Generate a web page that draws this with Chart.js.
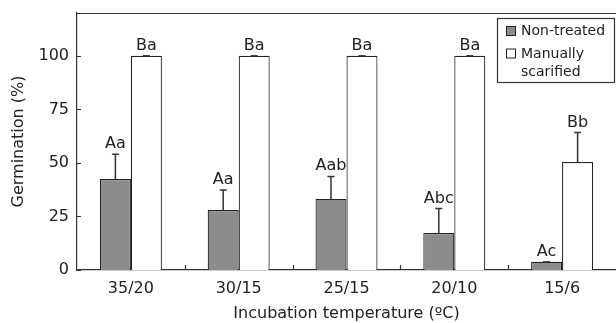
<!DOCTYPE html>
<html lang="en">
  <head>
    <meta charset="UTF-8" />
    <title>Germination</title>
    <script src="https://cdn.jsdelivr.net/npm/chart.js"></script>
    <style>
      body {
        margin: 0;
        background: #fff;
      }
      canvas {
        display: block;
      }
    </style>
  </head>
  <body>
    <canvas id="germChart" width="616" height="323"></canvas>

    <script>
      // data
      const categories = ["35/20", "30/15", "25/15", "20/10", "15/6"];
      const nonTreated = [42.5, 28, 33.2, 17.3, 3.8];
      const nonTreatedErr = [11.5, 9.3, 10.5, 11.4, 0];
      const nonTreatedLetters = ["Aa", "Aa", "Aab", "Abc", "Ac"];
      const scarified = [100, 100, 100, 100, 50.4];
      const scarifiedErr = [0, 0, 0, 0, 13.8];
      const scarifiedLetters = ["Ba", "Ba", "Ba", "Ba", "Bb"];
      const seriesNames = [["Non-treated"], ["Manually", "scarified"]];
      const yTicks = [0, 25, 50, 75, 100];

      const FONT = "'DejaVu Sans', sans-serif";
      const INK = "#222";

      // upward error bars + letters above them
      const errorBars = {
        id: "errorBars",
        afterDatasetsDraw(chart) {
          const ctx = chart.ctx;
          const y = chart.scales.y;
          ctx.save();
          chart.data.datasets.forEach((ds, di) => {
            const meta = chart.getDatasetMeta(di);
            meta.data.forEach((bar, i) => {
              const base = y.getPixelForValue(ds.data[i]);
              const top = y.getPixelForValue(ds.data[i] + ds.errors[i]);
              ctx.strokeStyle = "#333";
              ctx.lineWidth = 1.5;
              ctx.beginPath();
              ctx.moveTo(bar.x, base);
              ctx.lineTo(bar.x, top);
              ctx.moveTo(bar.x - 3.5, top);
              ctx.lineTo(bar.x + 3.5, top);
              ctx.stroke();
              ctx.fillStyle = INK;
              ctx.font = "16px " + FONT;
              ctx.textAlign = "center";
              ctx.textBaseline = "alphabetic";
              ctx.fillText(ds.letters[i], bar.x, top - 6);
            });
          });
          ctx.restore();
        },
      };

      // top frame line, inward tick marks and boxed legend
      const frame = {
        id: "frame",
        afterDraw(chart) {
          const ctx = chart.ctx;
          const { left, right, top, bottom } = chart.chartArea;
          const x = chart.scales.x;
          const y = chart.scales.y;
          ctx.save();
          ctx.strokeStyle = "#333";
          ctx.lineWidth = 1.2;
          ctx.beginPath();
          ctx.moveTo(left, top + 0.5);
          ctx.lineTo(right, top + 0.5);
          yTicks.forEach((v) => {
            const py = Math.round(y.getPixelForValue(v)) + 0.5;
            ctx.moveTo(left, py);
            ctx.lineTo(left + 4, py);
          });
          const step = (right - left) / categories.length;
          for (let i = 1; i < categories.length; i++) {
            const px = Math.round(x.getPixelForValue(i) - step / 2) + 0.5;
            ctx.moveTo(px, bottom);
            ctx.lineTo(px, bottom - 5);
          }
          ctx.stroke();

          // legend
          const bx = right - 119;
          const by = top + 5;
          ctx.fillStyle = "#fff";
          ctx.fillRect(bx, by, 117, 64);
          ctx.strokeStyle = "#333";
          ctx.lineWidth = 1.2;
          ctx.strokeRect(bx + 0.5, by + 0.5, 117, 64);
          ctx.font = "14px " + FONT;
          ctx.textAlign = "left";
          ctx.textBaseline = "alphabetic";
          let ly = by + 17;
          chart.data.datasets.forEach((ds, di) => {
            ctx.fillStyle = ds.backgroundColor;
            ctx.fillRect(bx + 9.5, ly - 8.5, 9, 9);
            ctx.strokeStyle = INK;
            ctx.lineWidth = 1;
            ctx.strokeRect(bx + 9.5, ly - 8.5, 9, 9);
            ctx.fillStyle = INK;
            seriesNames[di].forEach((line, li) => {
              ctx.fillText(line, bx + 24, ly + li * 18.5);
            });
            ly += 22.5 + (seriesNames[di].length - 1) * 18.5;
          });
          ctx.restore();
        },
      };

      const ctx = document.getElementById("germChart").getContext("2d");
      const germChart = new Chart(ctx, {
        type: "bar",
        data: {
          labels: categories,
          datasets: [
            {
              label: seriesNames[0].join(" "),
              data: nonTreated,
              errors: nonTreatedErr,
              letters: nonTreatedLetters,
              backgroundColor: "#8c8c8c",
              borderColor: INK,
              borderWidth: 1.2,
              categoryPercentage: 0.575,
              barPercentage: 1,
            },
            {
              label: seriesNames[1].join(" "),
              data: scarified,
              errors: scarifiedErr,
              letters: scarifiedLetters,
              backgroundColor: "#ffffff",
              borderColor: INK,
              borderWidth: 1.2,
              categoryPercentage: 0.575,
              barPercentage: 1,
            },
          ],
        },
        options: {
          responsive: false,
          animation: false,
          layout: { padding: { top: 13, right: 0, left: 0, bottom: 0 } },
          plugins: {
            legend: { display: false },
            tooltip: { enabled: false },
          },
          scales: {
            x: {
              grid: { display: false, drawTicks: false },
              border: { display: true, color: "#333", width: 1.2 },
              ticks: {
                color: INK,
                font: { family: FONT, size: 16 },
                padding: 9,
                maxRotation: 0,
              },
              title: {
                display: true,
                text: "Incubation temperature (ºC)",
                color: INK,
                font: { family: FONT, size: 16 },
                padding: { top: 0, bottom: 0 },
              },
              afterFit(scale) {
                scale.height = 53;
              },
            },
            y: {
              min: 0,
              max: 120,
              grid: { display: false, drawTicks: false },
              border: { display: true, color: "#333", width: 1.2 },
              ticks: {
                color: INK,
                font: { family: FONT, size: 16 },
                padding: 8,
              },
              afterBuildTicks(scale) {
                scale.ticks = yTicks.map((v) => ({ value: v }));
              },
              title: {
                display: true,
                text: "Germination (%)",
                color: INK,
                font: { family: FONT, size: 16 },
                padding: { top: 9, bottom: 0 },
              },
              afterFit(scale) {
                scale.width = 77;
                scale.paddingTop = 0;
                scale.paddingBottom = 0;
              },
            },
          },
        },
        plugins: [errorBars, frame],
      });
    </script>
  </body>
</html>
